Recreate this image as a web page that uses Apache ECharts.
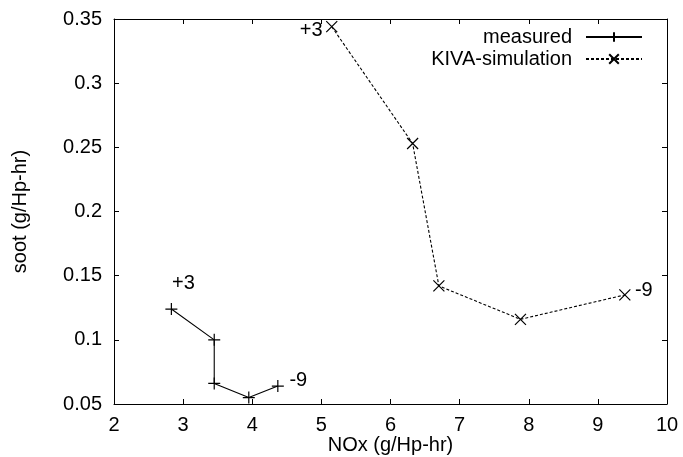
<!DOCTYPE html>
<html>
<head>
<meta charset="utf-8">
<script src="https://cdn.jsdelivr.net/npm/echarts@6/dist/echarts.min.js"></script>
<style>
  html, body { margin: 0; padding: 0; background: #fff; }
  #chart { width: 683px; height: 457px; }
</style>
</head>
<body>
<div id="chart"></div>
<script>
// data
const measuredNox = [2.83, 3.45, 3.45, 3.95, 4.37]
const measuredSoot = [0.124, 0.100, 0.066, 0.055, 0.064]
const measuredTags = ['+3', '', '', '', '-9']

const kivaNox = [5.15, 6.32, 6.70, 7.88, 9.39]
const kivaSoot = [0.344, 0.253, 0.142, 0.116, 0.135]
const kivaTags = ['+3', '', '', '', '-9']

const FONT = 'Liberation Sans, Arial, sans-serif'
const FS = 20
const PLUS = 'path://M0,5L10,5M5,0L5,10'
const CROSS = 'path://M0,0L10,10M0,10L10,0'

// build point list, tag the first/last timing points
const buildPoints = (xs, ys, tags, tagPos) => xs.map((x, i) => {
  const item = { value: [x, ys[i]] }
  if (tags[i]) {
    item.label = {
      show: true,
      formatter: tags[i],
      color: '#000',
      fontFamily: FONT,
      fontSize: FS,
      ...tagPos[i]
    }
  }
  return item
})

const measuredPos = {
  0: { position: 'top', offset: [12, -4] },
  4: { position: 'right', offset: [0, -6] }
}
const kivaPos = {
  0: { position: 'left', offset: [2, 4] },
  4: { position: 'right', offset: [-1, -4] }
}

const tickStyle = { show: true, inside: true, length: 5, lineStyle: { color: '#000', width: 1 } }
const lineAxis = { show: true, lineStyle: { color: '#000', width: 1 } }
const labelStyle = { color: '#000', fontFamily: FONT, fontSize: FS }

const chart = echarts.init(document.getElementById('chart'))

chart.setOption({
  animation: false,
  backgroundColor: '#fff',
  grid: { left: 114, right: 16, top: 19, bottom: 53, containLabel: false, outerBoundsMode: 'none' },
  legend: {
    orient: 'vertical',
    right: 35,
    top: 22,
    align: 'right',
    itemWidth: 56,
    itemHeight: 12,
    itemGap: 2,
    textStyle: { color: '#000', fontFamily: FONT, fontSize: FS, padding: [0, 9, 0, 0] },
    data: ['measured', 'KIVA-simulation']
  },
  xAxis: [
    {
      type: 'value',
      min: 2,
      max: 10,
      interval: 1,
      name: 'NOx (g/Hp-hr)',
      nameLocation: 'middle',
      nameGap: 31,
      nameMoveOverlap: false,
      nameTextStyle: { color: '#000', fontFamily: FONT, fontSize: FS },
      axisLine: lineAxis,
      axisTick: tickStyle,
      axisLabel: { ...labelStyle, margin: 11 },
      splitLine: { show: false }
    },
    {
      type: 'value',
      position: 'top',
      min: 2,
      max: 10,
      interval: 1,
      axisLine: lineAxis,
      axisTick: tickStyle,
      axisLabel: { show: false },
      splitLine: { show: false }
    }
  ],
  yAxis: [
    {
      type: 'value',
      min: 0.05,
      max: 0.35,
      interval: 0.05,
      name: 'soot (g/Hp-hr)',
      nameLocation: 'middle',
      nameGap: 84,
      nameMoveOverlap: false,
      nameRotate: 90,
      nameTextStyle: { color: '#000', fontFamily: FONT, fontSize: FS },
      axisLine: lineAxis,
      axisTick: tickStyle,
      axisLabel: { ...labelStyle, margin: 12, formatter: v => +v.toFixed(2) + '' },
      splitLine: { show: false }
    },
    {
      type: 'value',
      position: 'right',
      min: 0.05,
      max: 0.35,
      interval: 0.05,
      axisLine: lineAxis,
      axisTick: tickStyle,
      axisLabel: { show: false },
      splitLine: { show: false }
    }
  ],
  series: [
    {
      name: 'measured',
      type: 'line',
      data: buildPoints(measuredNox, measuredSoot, measuredTags, measuredPos),
      symbol: PLUS,
      symbolSize: 12,
      showAllSymbol: true,
      itemStyle: { color: '#000', borderColor: '#000', borderWidth: 1.2 },
      lineStyle: { color: '#000', width: 1.1, type: 'solid' }
    },
    {
      name: 'KIVA-simulation',
      type: 'line',
      data: buildPoints(kivaNox, kivaSoot, kivaTags, kivaPos),
      symbol: CROSS,
      symbolSize: 11,
      showAllSymbol: true,
      itemStyle: { color: '#000', borderColor: '#000', borderWidth: 1.2 },
      lineStyle: { color: '#000', width: 1.1, type: [3, 2] }
    }
  ]
})

window.addEventListener('resize', () => chart.resize())
</script>
</body>
</html>
